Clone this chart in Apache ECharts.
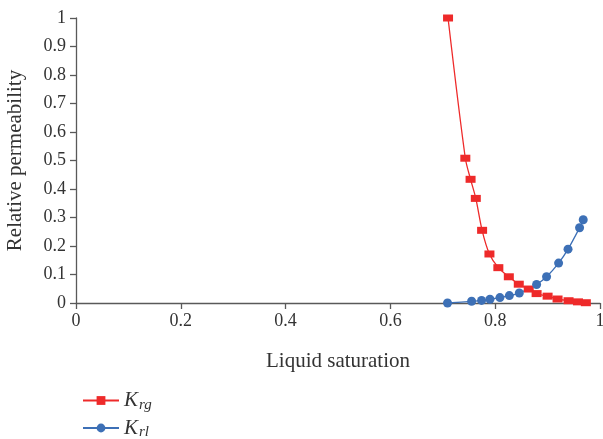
<!DOCTYPE html>
<html>
<head>
<meta charset="utf-8">
<script src="https://cdn.jsdelivr.net/npm/echarts@6/dist/echarts.min.js"></script>
<style>
  html, body { margin: 0; padding: 0; background: #fff; }
  #chart { width: 603px; height: 439px; }
</style>
</head>
<body>
<div id="chart"></div>
<script>
// values
var krgSat = [0.710, 0.743, 0.753, 0.763, 0.775, 0.789, 0.806, 0.826, 0.845, 0.864, 0.879, 0.900, 0.919, 0.940, 0.958, 0.973];
var krgVal = [1.000, 0.508, 0.434, 0.367, 0.255, 0.172, 0.124, 0.092, 0.066, 0.049, 0.033, 0.024, 0.014, 0.008, 0.004, 0.001];
var krlSat = [0.709, 0.755, 0.774, 0.790, 0.809, 0.827, 0.846, 0.879, 0.898, 0.921, 0.939, 0.961, 0.968];
var krlVal = [0.000, 0.006, 0.009, 0.013, 0.019, 0.026, 0.035, 0.065, 0.092, 0.140, 0.189, 0.264, 0.292];

var serif = '"Liberation Serif", "DejaVu Serif", serif';
var axisColor = '#595959';
var textColor = '#333';

function pairs(xs, ys) {
  return xs.map(function (x, i) { return [x, ys[i]]; });
}

var chart = echarts.init(document.getElementById('chart'));
chart.setOption({
  animation: false,
  textStyle: { fontFamily: serif },
  grid: { left: 76, right: 3, top: 18, bottom: 136, outerBoundsMode: 'none', containLabel: false },
  legend: {
    orient: 'vertical',
    left: 77,
    top: 385,
    height: 60,
    itemWidth: 36,
    itemHeight: 11,
    itemGap: 5,
    data: ['Krg', 'Krl'],
    formatter: function (name) {
      return '{k|K}{s|' + name.slice(1) + '}';
    },
    textStyle: {
      rich: {
        k: { fontFamily: serif, fontStyle: 'italic', fontSize: 21, color: textColor, lineHeight: 24 },
        s: { fontFamily: serif, fontStyle: 'italic', fontSize: 15, color: textColor, padding: [9, 0, 0, 1] }
      }
    }
  },
  xAxis: {
    type: 'value',
    min: 0,
    max: 1,
    interval: 0.2,
    name: 'Liquid saturation',
    nameLocation: 'middle',
    nameGap: 48,
    nameTextStyle: { fontFamily: serif, fontSize: 21, color: textColor },
    axisLine: { lineStyle: { color: axisColor, width: 1.3 } },
    axisTick: { show: true, length: 6, lineStyle: { color: axisColor, width: 1.3 } },
    axisLabel: { fontFamily: serif, fontSize: 18, color: textColor, margin: 9 },
    splitLine: { show: false }
  },
  yAxis: {
    type: 'value',
    min: 0,
    max: 1,
    interval: 0.1,
    name: 'Relative permeability',
    nameLocation: 'middle',
    nameGap: 50,
    nameTextStyle: { fontFamily: serif, fontSize: 21, color: textColor },
    axisLine: { show: true, lineStyle: { color: axisColor, width: 1.3 } },
    axisTick: { show: true, length: 6, lineStyle: { color: axisColor, width: 1.3 } },
    axisLabel: { fontFamily: serif, fontSize: 18, color: textColor, margin: 10 },
    splitLine: { show: false }
  },
  series: [
    {
      name: 'Krg',
      type: 'line',
      smooth: 0.3,
      data: pairs(krgSat, krgVal),
      symbol: 'rect',
      symbolSize: [10, 7],
      itemStyle: { color: '#ee2a2a' },
      lineStyle: { color: '#ee2a2a', width: 1.3 }
    },
    {
      name: 'Krl',
      type: 'line',
      smooth: 0.3,
      data: pairs(krlSat, krlVal),
      symbol: 'circle',
      symbolSize: 9,
      itemStyle: { color: '#3d70b6' },
      lineStyle: { color: '#3d70b6', width: 1.3 }
    }
  ]
});
</script>
</body>
</html>
